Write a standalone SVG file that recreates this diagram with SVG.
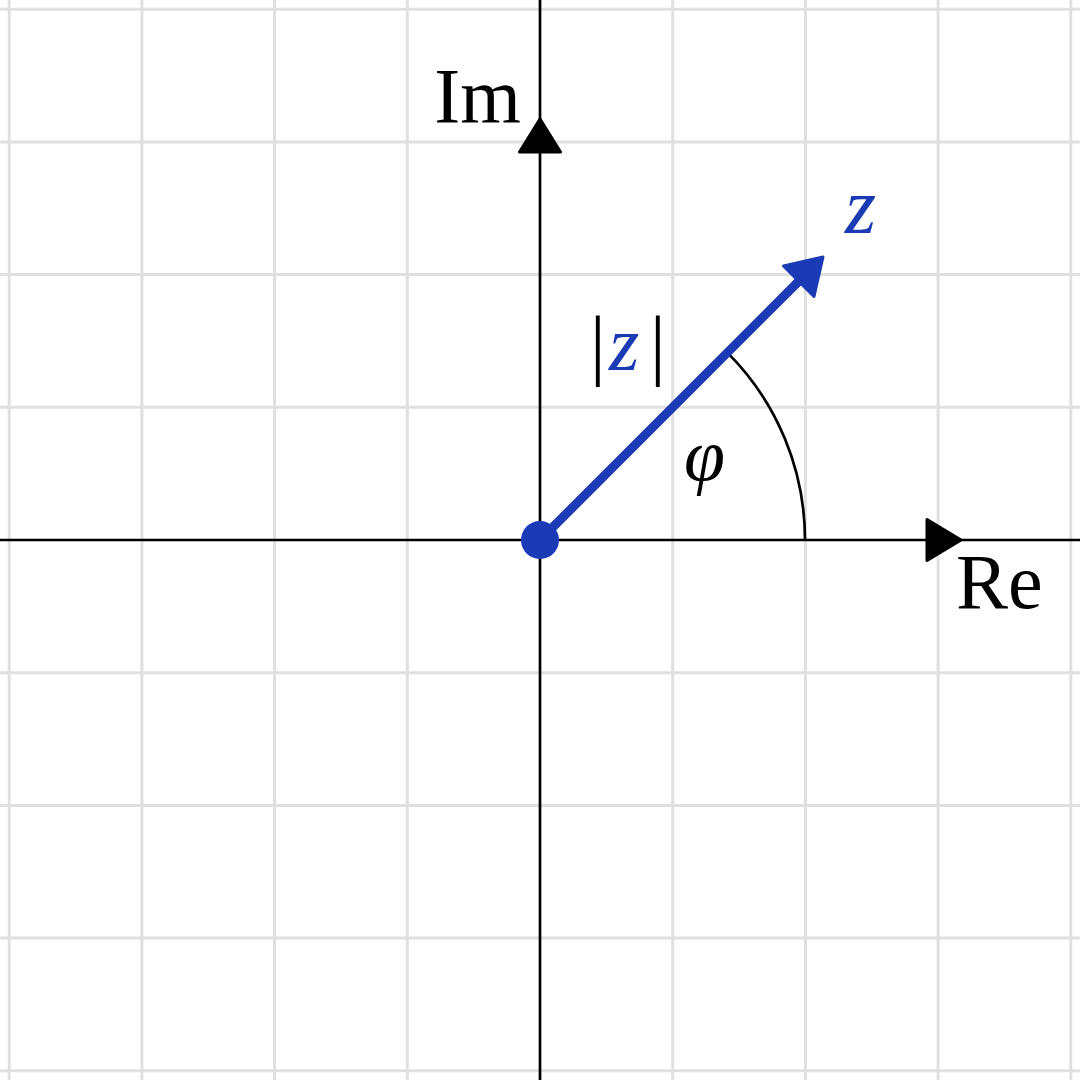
<svg xmlns="http://www.w3.org/2000/svg" width="1080" height="1080" viewBox="0 0 1080 1080">
<style>
.grid line{stroke:#e0e0e0;stroke-width:3}
.axis{stroke:#000;stroke-width:2.7;fill:none}
.head{fill:#000;stroke:#000;stroke-width:3;stroke-linejoin:round}
.lbl{font-family:"Liberation Serif","DejaVu Serif",serif;fill:#000}
.blue{fill:#1a3bb5}
</style>
<rect width="1080" height="1080" fill="#fff"/>
<g id="grid" class="grid">
<line x1="9.2" y1="0" x2="9.2" y2="1080"/>
<line x1="141.9" y1="0" x2="141.9" y2="1080"/>
<line x1="274.6" y1="0" x2="274.6" y2="1080"/>
<line x1="407.3" y1="0" x2="407.3" y2="1080"/>
<line x1="672.7" y1="0" x2="672.7" y2="1080"/>
<line x1="805.4" y1="0" x2="805.4" y2="1080"/>
<line x1="938.1" y1="0" x2="938.1" y2="1080"/>
<line x1="1070.8" y1="0" x2="1070.8" y2="1080"/>
<line x1="0" y1="9.2" x2="1080" y2="9.2"/>
<line x1="0" y1="141.9" x2="1080" y2="141.9"/>
<line x1="0" y1="274.6" x2="1080" y2="274.6"/>
<line x1="0" y1="407.3" x2="1080" y2="407.3"/>
<line x1="0" y1="672.7" x2="1080" y2="672.7"/>
<line x1="0" y1="805.4" x2="1080" y2="805.4"/>
<line x1="0" y1="938.1" x2="1080" y2="938.1"/>
<line x1="0" y1="1070.8" x2="1080" y2="1070.8"/>
</g>
<g id="connectors">
<line class="axis" x1="0" y1="540" x2="1080" y2="540"/>
<line class="axis" x1="540" y1="0" x2="540" y2="1080"/>
<path class="head" d="M540 119 L560.5 152 L519.5 152 Z"/>
<path class="head" d="M961 540 L927 560.5 L927 519.5 Z"/>
<path class="axis" d="M805 540 A265 265 0 0 0 727.4 352.6"/>
<line x1="540" y1="540" x2="800" y2="280" stroke="#1a3bb5" stroke-width="9"/>
<path d="M823 257 L814 296.5 L783.5 266 Z" fill="#1a3bb5" stroke="#1a3bb5" stroke-width="3" stroke-linejoin="round"/>
</g>
<g id="origin"><circle cx="540" cy="540" r="19" class="blue"/></g>
<g id="label-im"><text class="lbl" x="521" y="122" font-size="78" text-anchor="end">Im</text></g>
<g id="label-re"><text class="lbl" x="956" y="608" font-size="78">Re</text></g>
<g id="label-z"><text class="lbl blue" x="845" y="233" font-size="80" font-style="italic">z</text></g>
<g id="label-abs"><text class="lbl" y="370" font-size="78"><tspan x="590">|</tspan><tspan x="609" class="blue" font-style="italic">z</tspan><tspan x="650">|</tspan></text></g>
<g id="label-phi"><text class="lbl" x="684" y="480" font-size="74" font-style="italic">φ</text></g>
</svg>
